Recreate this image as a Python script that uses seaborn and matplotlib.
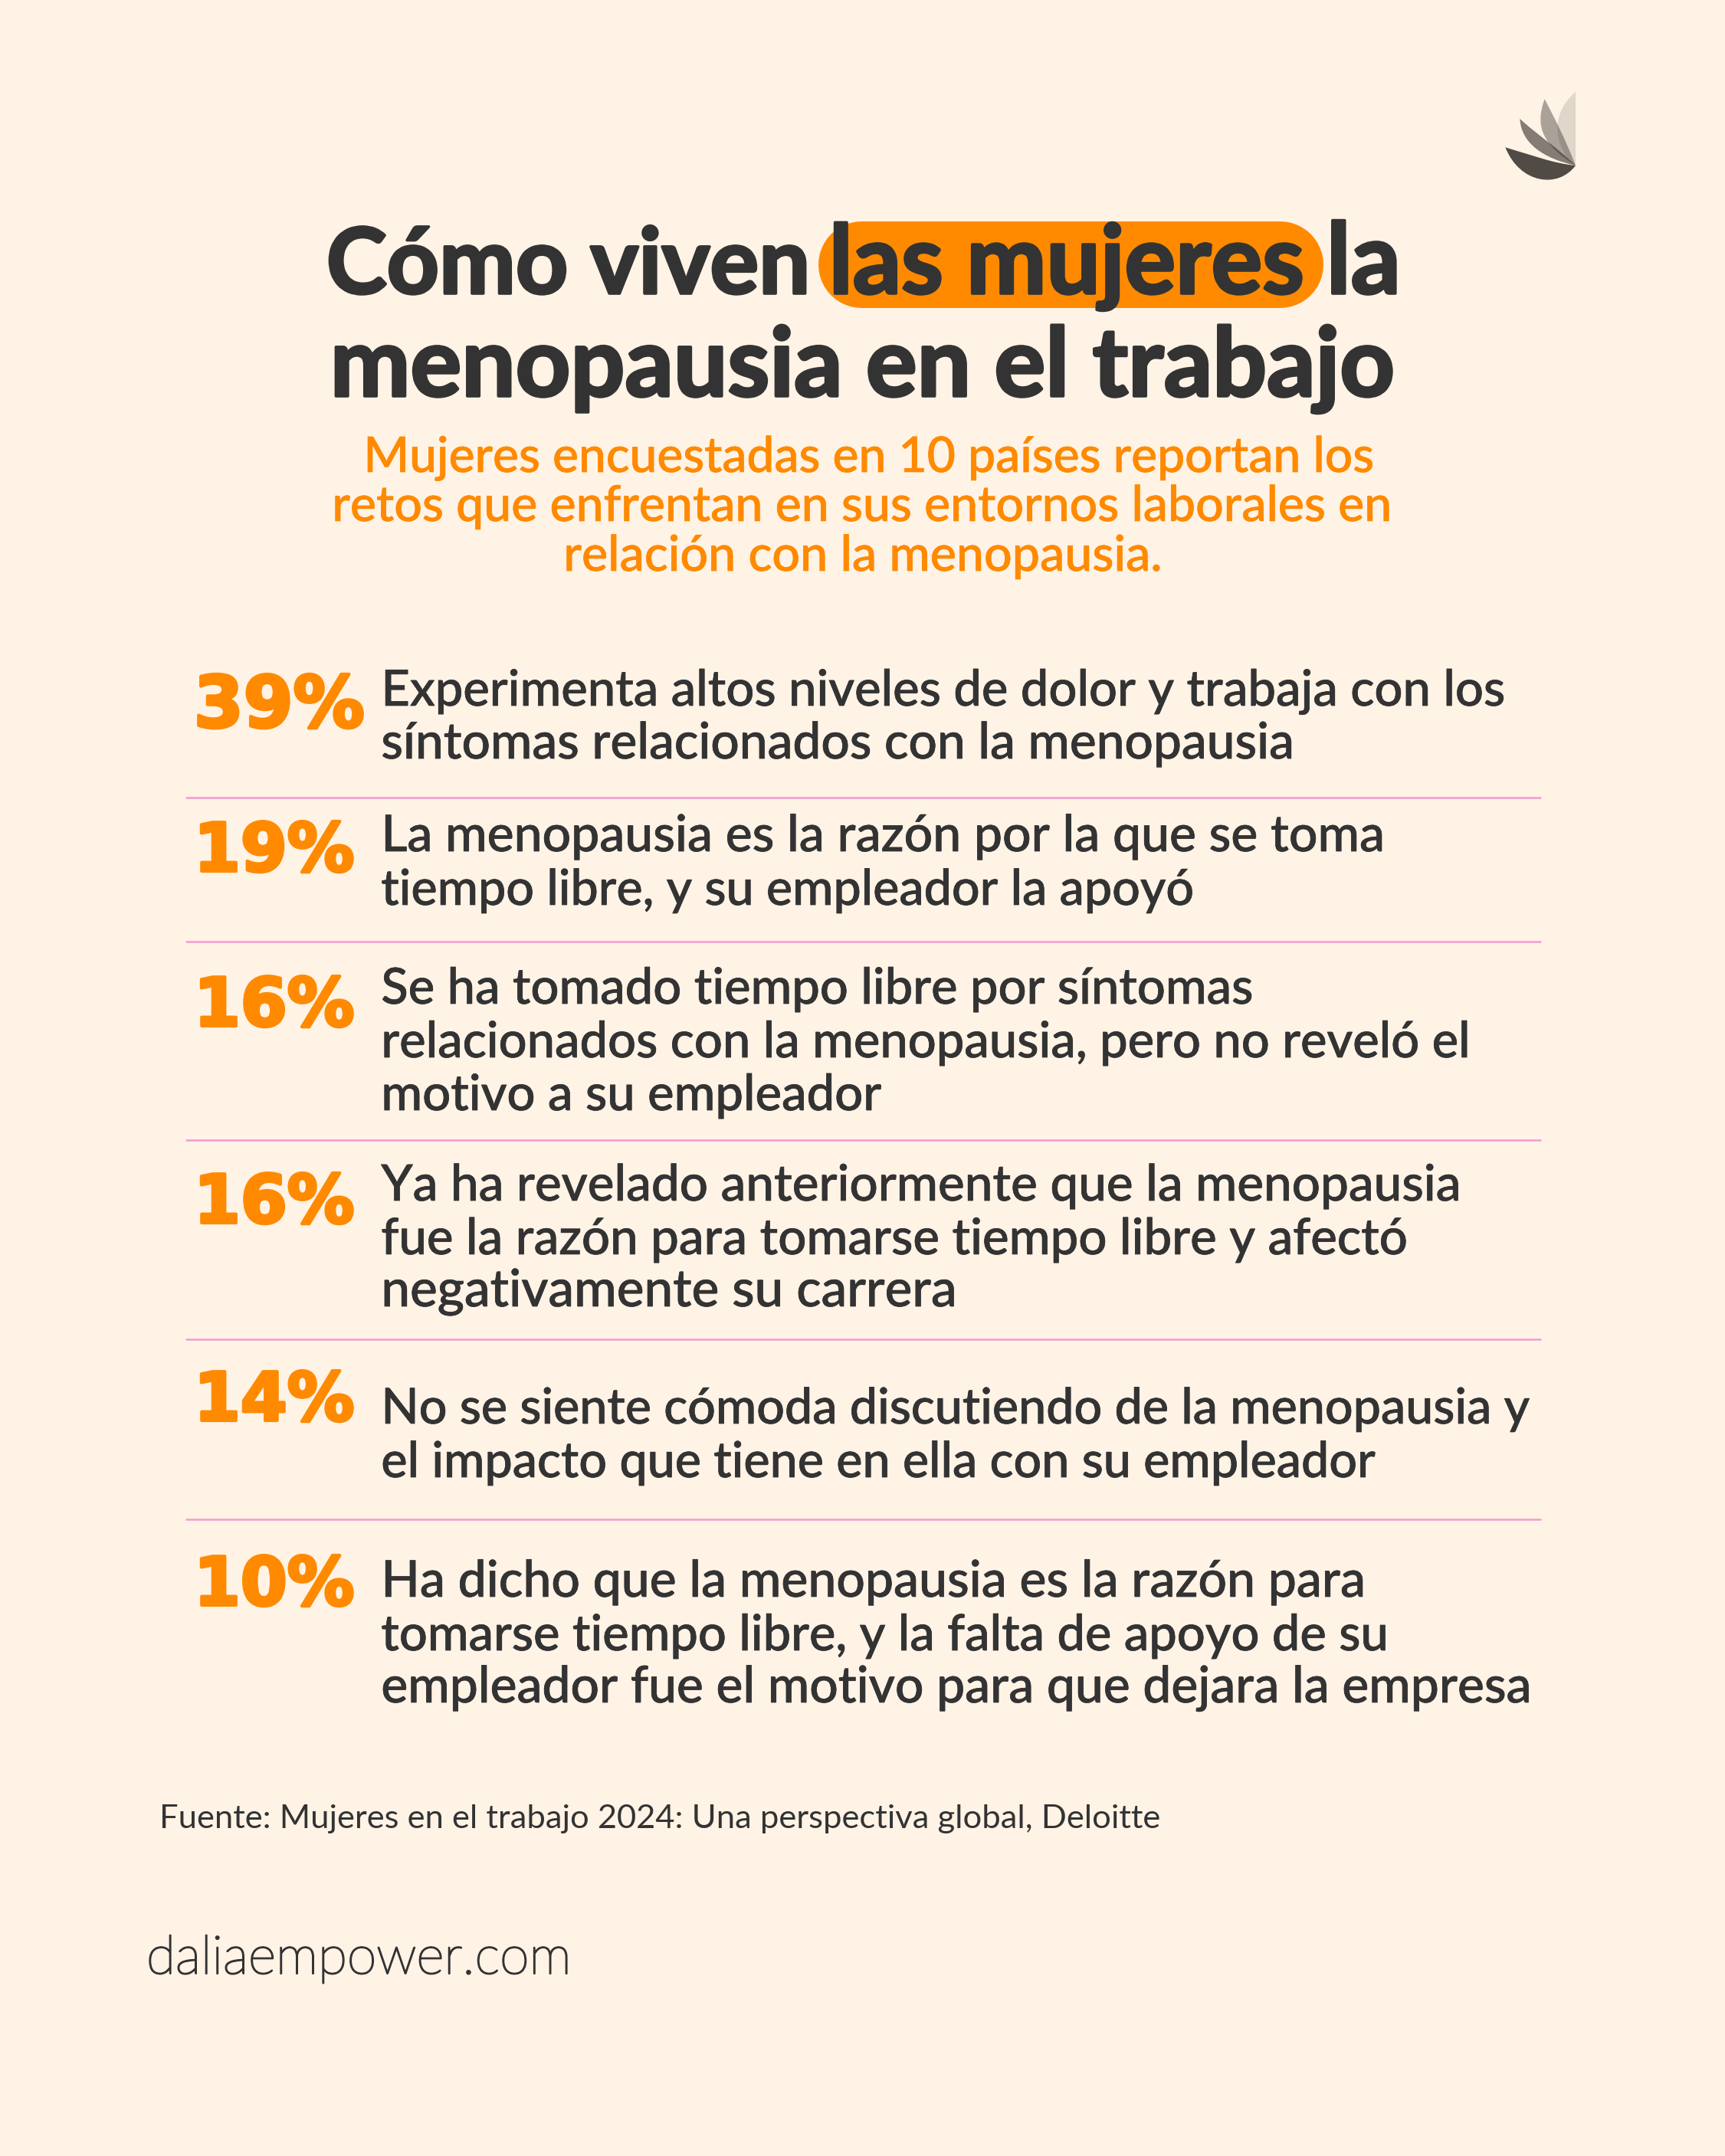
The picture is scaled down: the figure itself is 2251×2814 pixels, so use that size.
import matplotlib
matplotlib.use("Agg")
import matplotlib.pyplot as plt
import pandas as pd
import seaborn as sns
from matplotlib.font_manager import FontProperties
from matplotlib.patches import PathPatch
from matplotlib.path import Path
from matplotlib.textpath import TextPath
import matplotlib.patheffects as pe

# ---- content ----
title_line_1 = ["Cómo viven", "las mujeres", "la"]
title_line_2 = "menopausia en el trabajo"
subtitle_lines = ["Mujeres encuestadas en 10 países reportan los",
                  "retos que enfrentan en sus entornos laborales en",
                  "relación con la menopausia."]
percent_values = [39, 19, 16, 16, 14, 10]
row_texts = [
    ["Experimenta altos niveles de dolor y trabaja con los", "síntomas relacionados con la menopausia"],
    ["La menopausia es la razón por la que se toma", "tiempo libre, y su empleador la apoyó"],
    ["Se ha tomado tiempo libre por síntomas", "relacionados con la menopausia, pero no reveló el", "motivo a su empleador"],
    ["Ya ha revelado anteriormente que la menopausia", "fue la razón para tomarse tiempo libre y afectó", "negativamente su carrera"],
    ["No se siente cómoda discutiendo de la menopausia y", "el impacto que tiene en ella con su empleador"],
    ["Ha dicho que la menopausia es la razón para", "tomarse tiempo libre, y la falta de apoyo de su", "empleador fue el motivo para que dejara la empresa"],
]
source_text = "Fuente: Mujeres en el trabajo 2024: Una perspectiva global, Deloitte"
site_text = "daliaempower.com"

# ---- layout (pixels) ----
W, H = 2251, 2814
BG, ORANGE, INK, PINK = "#FFF3E6", "#FF8A00", "#333333", "#F49ACD"
S = 1.795  # overview-to-pixel factor used for the right-hand text edges
title_1_span = [(424, 1051), (1080, 1695), (1729, 1815)]
title_2_span = (429, 1817)
title_base = [383, 517]
sub_span = [(474, 1792), (433, 1815), (735, 1513)]
sub_base = [616, 680, 745]
pct_base = [949, 1137, 1339, 1596, 1854, 2095]
line_base = [[921, 990], [1111, 1181], [1310, 1380, 1449],
             [1567, 1637, 1705], [1858, 1928], [2084, 2154, 2222]]
line_right = [[1094, 941], [1005, 869], [912, 1068, 640], [1064, 1025, 693], [1113, 1002], [991, 1010, 1114]]
sep_y = [1041, 1229, 1488, 1748, 1983]

sns.set_theme(style="white", rc={"axes.facecolor": BG, "figure.facecolor": BG})
fig = plt.figure(figsize=(W / 100, H / 100), dpi=100, facecolor=BG)
ax = fig.add_axes([0, 0, 1, 1])
ax.set_xlim(0, W)
ax.set_ylim(H, 0)
ax.axis("off")


def fit(text, weight, width_px):
    fp = FontProperties(family="Lato", weight=weight)
    w = TextPath((0, 0), text, size=100, prop=fp).get_extents().width
    return width_px / w * 72 * 0.995


def put(x0, x1, y, s, color, weight="medium", stroke=0.0, z=3):
    size = fit(s, weight, x1 - x0 - stroke * 100 / 72)
    t = ax.text(x0 + stroke * 50 / 72, y, s, family="Lato", weight=weight, fontsize=size, color=color,
                ha="left", va="baseline", zorder=z)
    if stroke:
        t.set_path_effects([pe.withStroke(linewidth=stroke, foreground=color)])
    return t


# separators through seaborn
sep = pd.DataFrame([{"row": i, "x": x, "y": y} for i, y in enumerate(sep_y) for x in (243, 2010)])
sns.lineplot(data=sep, x="x", y="y", units="row", estimator=None, color=PINK, lw=1.8, ax=ax, legend=False, sort=False)
ax.set_xlim(0, W)
ax.set_ylim(H, 0)
ax.axis("off")

# highlight pill: a thick line with round caps
ax.plot([1068 + 56, 1726 - 56], [344.5, 344.5], color=ORANGE, lw=113 * 0.72, solid_capstyle="round", zorder=1)

for s, (x0, x1) in zip(title_line_1, title_1_span):
    put(x0, x1, title_base[0], s, INK, "bold", 2.6)
put(title_2_span[0], title_2_span[1], title_base[1], title_line_2, INK, "bold", 2.6)

for s, (x0, x1), y in zip(subtitle_lines, sub_span, sub_base):
    put(x0, x1, y, s, ORANGE, "medium", 0.5)

for v, py, lines, ys, rights in zip(percent_values, pct_base, row_texts, line_base, line_right):
    label = f"{v}%"
    size = 63 if label[0] == "1" else 67
    t = ax.text(253, py, label, family="DejaVu Sans", weight="bold", fontsize=size, color=ORANGE,
                ha="left", va="baseline", zorder=3)
    t.set_path_effects([pe.withStroke(linewidth=3, foreground=ORANGE)])
    for s, y, r in zip(lines, ys, rights):
        put(497, r * S, y, s, INK, "medium", 0.5)

put(208, 1513, 2386, source_text, INK, "regular")
put(190, 739, 2576, site_text, INK, "light", 1.5)


# logo petals
def pt(x, y):
    return (1900 + x / 3, 90 + y / 3)


def petal(points, alpha):
    verts = [pt(*p) for p in points] + [pt(*points[0])]
    codes = [Path.MOVETO] + [Path.CURVE4] * (len(points) - 1) + [Path.CLOSEPOLY]
    ax.add_patch(PathPatch(Path(verts, codes), fc="#2B2623", ec="none", alpha=alpha, zorder=4))


petal([(468, 90), (468, 180), (468, 280), (468, 378), (400, 330), (350, 190), (468, 90)], 0.14)
petal([(347, 118), (305, 230), (345, 300), (468, 378), (430, 280), (395, 210), (347, 118)], 0.40)
petal([(250, 195), (255, 290), (340, 350), (468, 378), (400, 310), (320, 260), (250, 195)], 0.58)
petal([(193, 307), (250, 450), (400, 470), (468, 378), (380, 370), (290, 335), (193, 307)], 0.82)

fig.savefig("out.png", dpi=100, facecolor=BG)
